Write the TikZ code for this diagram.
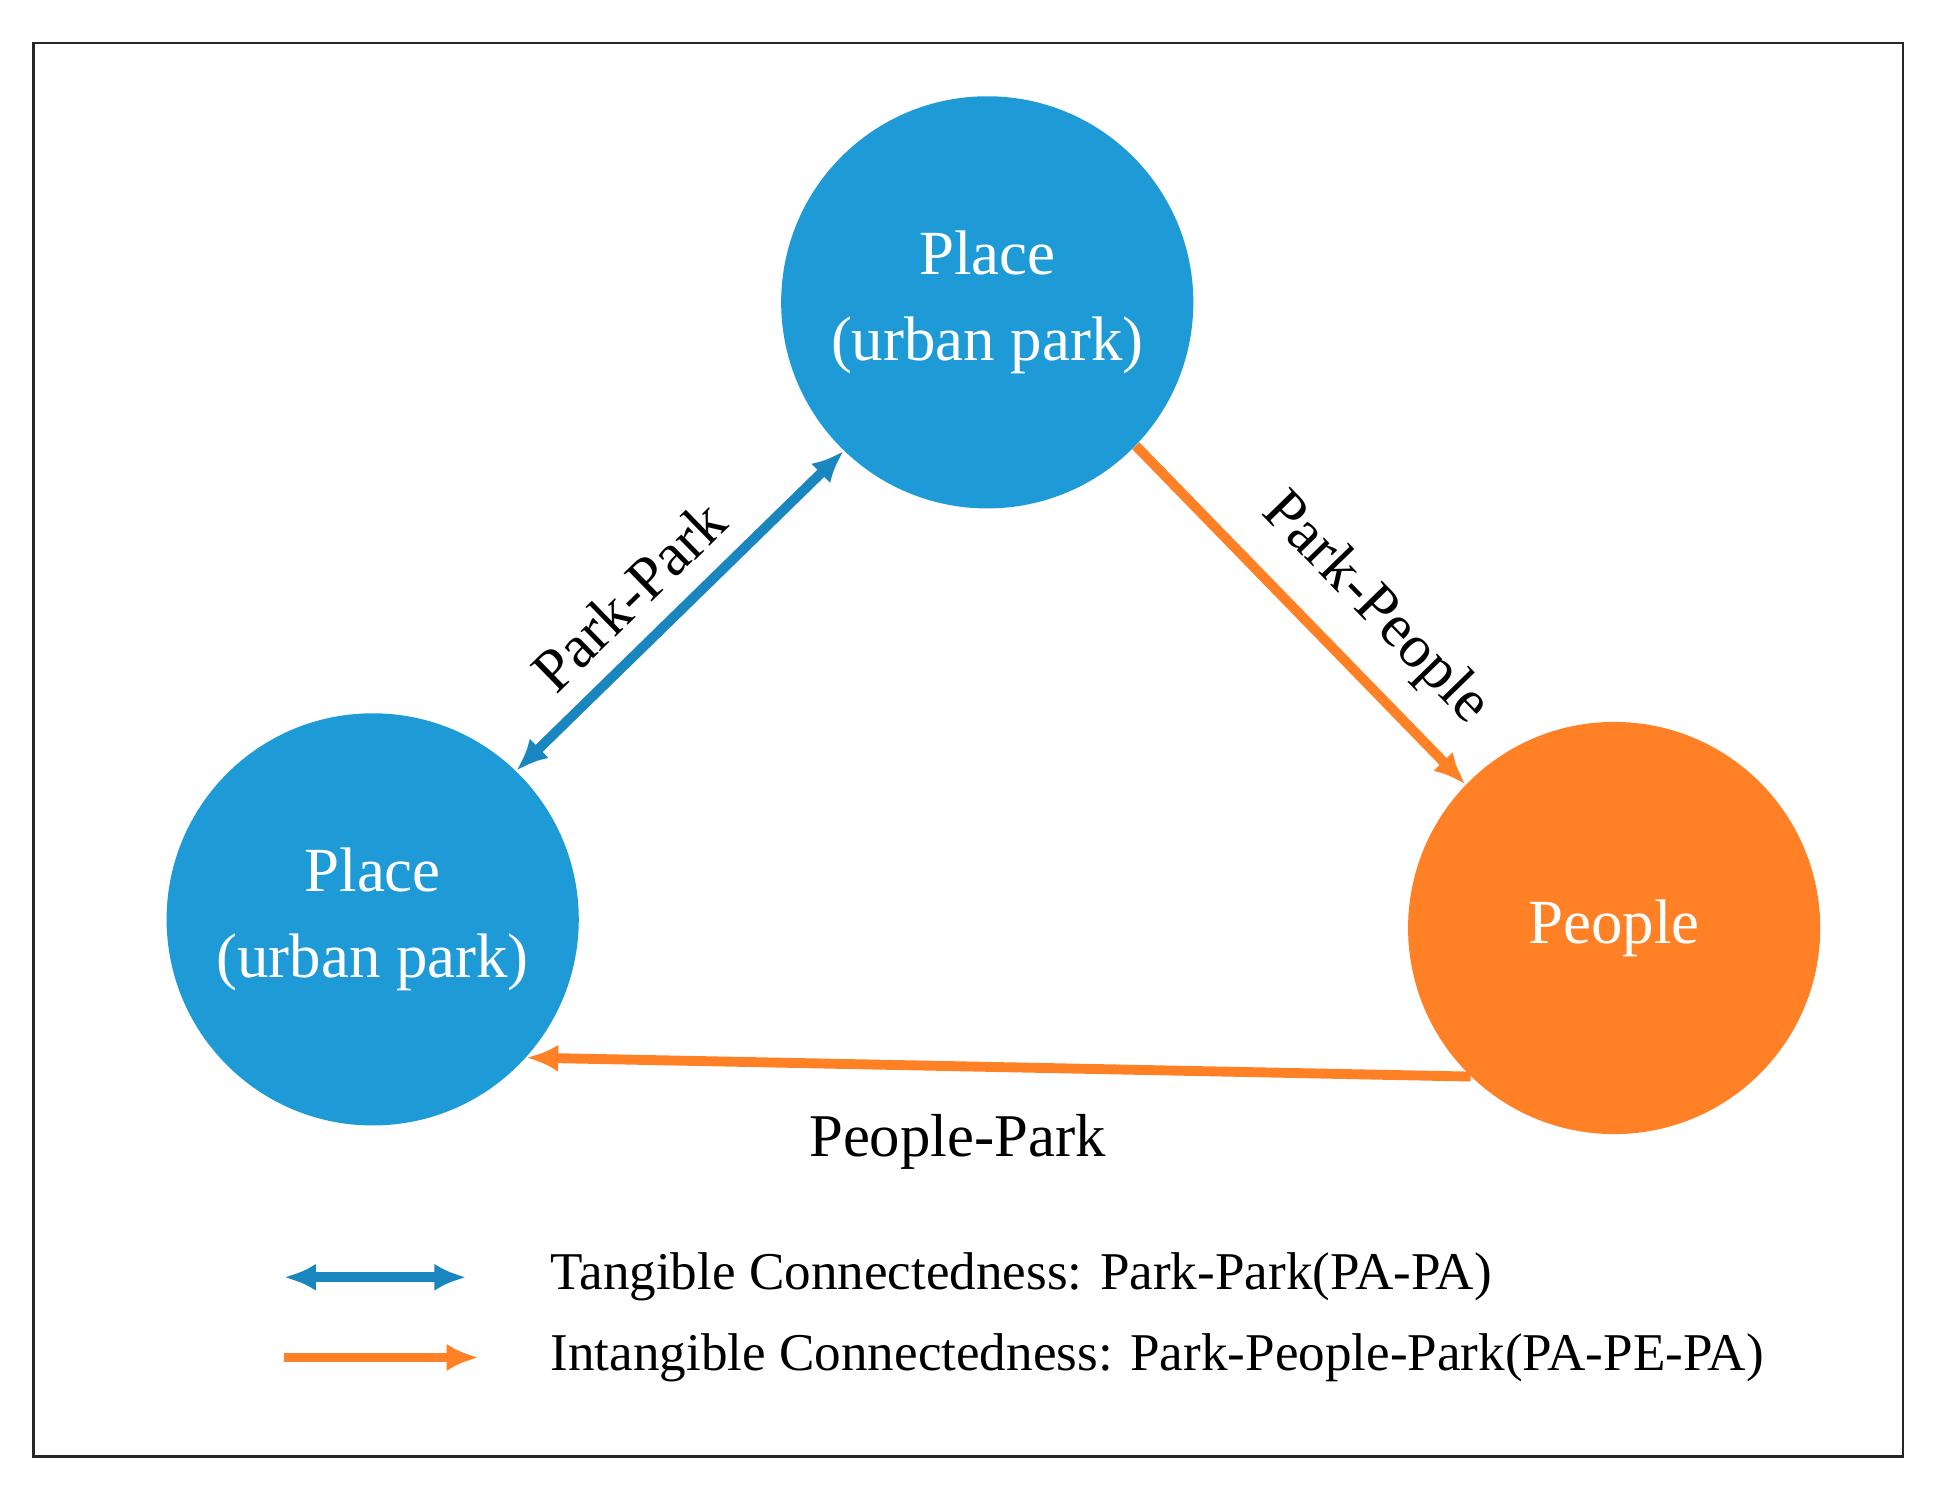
\documentclass[tikz,border=0pt]{standalone}
\usepackage{fontspec}
\setmainfont{Liberation Serif}
\usetikzlibrary{arrows.meta}
\definecolor{pblue}{HTML}{1E9BD7}
\definecolor{porange}{HTML}{FF8025}
\definecolor{dblue}{HTML}{1A86BF}
\begin{document}
\begin{tikzpicture}[x=0.02cm,y=-0.02cm,
  circ/.style={circle,minimum size=334*0.02cm,inner sep=0pt,text=white,align=center,font=\fontsize{29}{40}\selectfont},
  conn/.style={line width=8*0.02cm,-{Latex[length=26*0.02cm,width=22*0.02cm]}},
  dconn/.style={line width=8*0.02cm,{Latex[length=26*0.02cm,width=22*0.02cm]}-{Latex[length=26*0.02cm,width=22*0.02cm]}},
  lab/.style={font=\fontsize{28}{32}\selectfont},
  leg/.style={font=\fontsize{24.5}{30}\selectfont,anchor=west}]
\useasboundingbox (0,0) rectangle (1568,1206);
\draw[line width=1.2pt,draw=black!85] (27,35) rectangle (1542,1180);
\node[circ,fill=pblue] (top) at (800,245) {Place\\(urban park)};
\node[circ,fill=pblue] (left) at (302,745) {Place\\(urban park)};
\node[circ,fill=porange] (right) at (1308,752) {People};
\draw[dconn,dblue] (left.46) -- (top.226)
  node[midway,above,sloped,lab,text=black,yshift=6pt,xshift=-12pt] {Park-Park};
\draw[conn,porange] (top.-44) -- (right.136)
  node[midway,above,sloped,lab,text=black,yshift=8pt,xshift=22pt] {Park-People};
\draw[conn,porange] (right.226) -- (left.-42);
\node[lab] (pp) at (776,925) {People-Park};
\coordinate (b1) at (230,1035); \coordinate (b2) at (378,1035);
\coordinate (o1) at (230,1100); \coordinate (o2) at (388,1100);
\draw[dconn,dblue] (b1) -- (b2);
\draw[conn,porange] (o1) -- (o2);
\node[leg] (l1) at (440,1035) {Tangible Connectedness: Park-Park(PA-PA)};
\node[leg] (l2) at (440,1100) {Intangible Connectedness: Park-People-Park(PA-PE-PA)};
\end{tikzpicture}
\end{document}
